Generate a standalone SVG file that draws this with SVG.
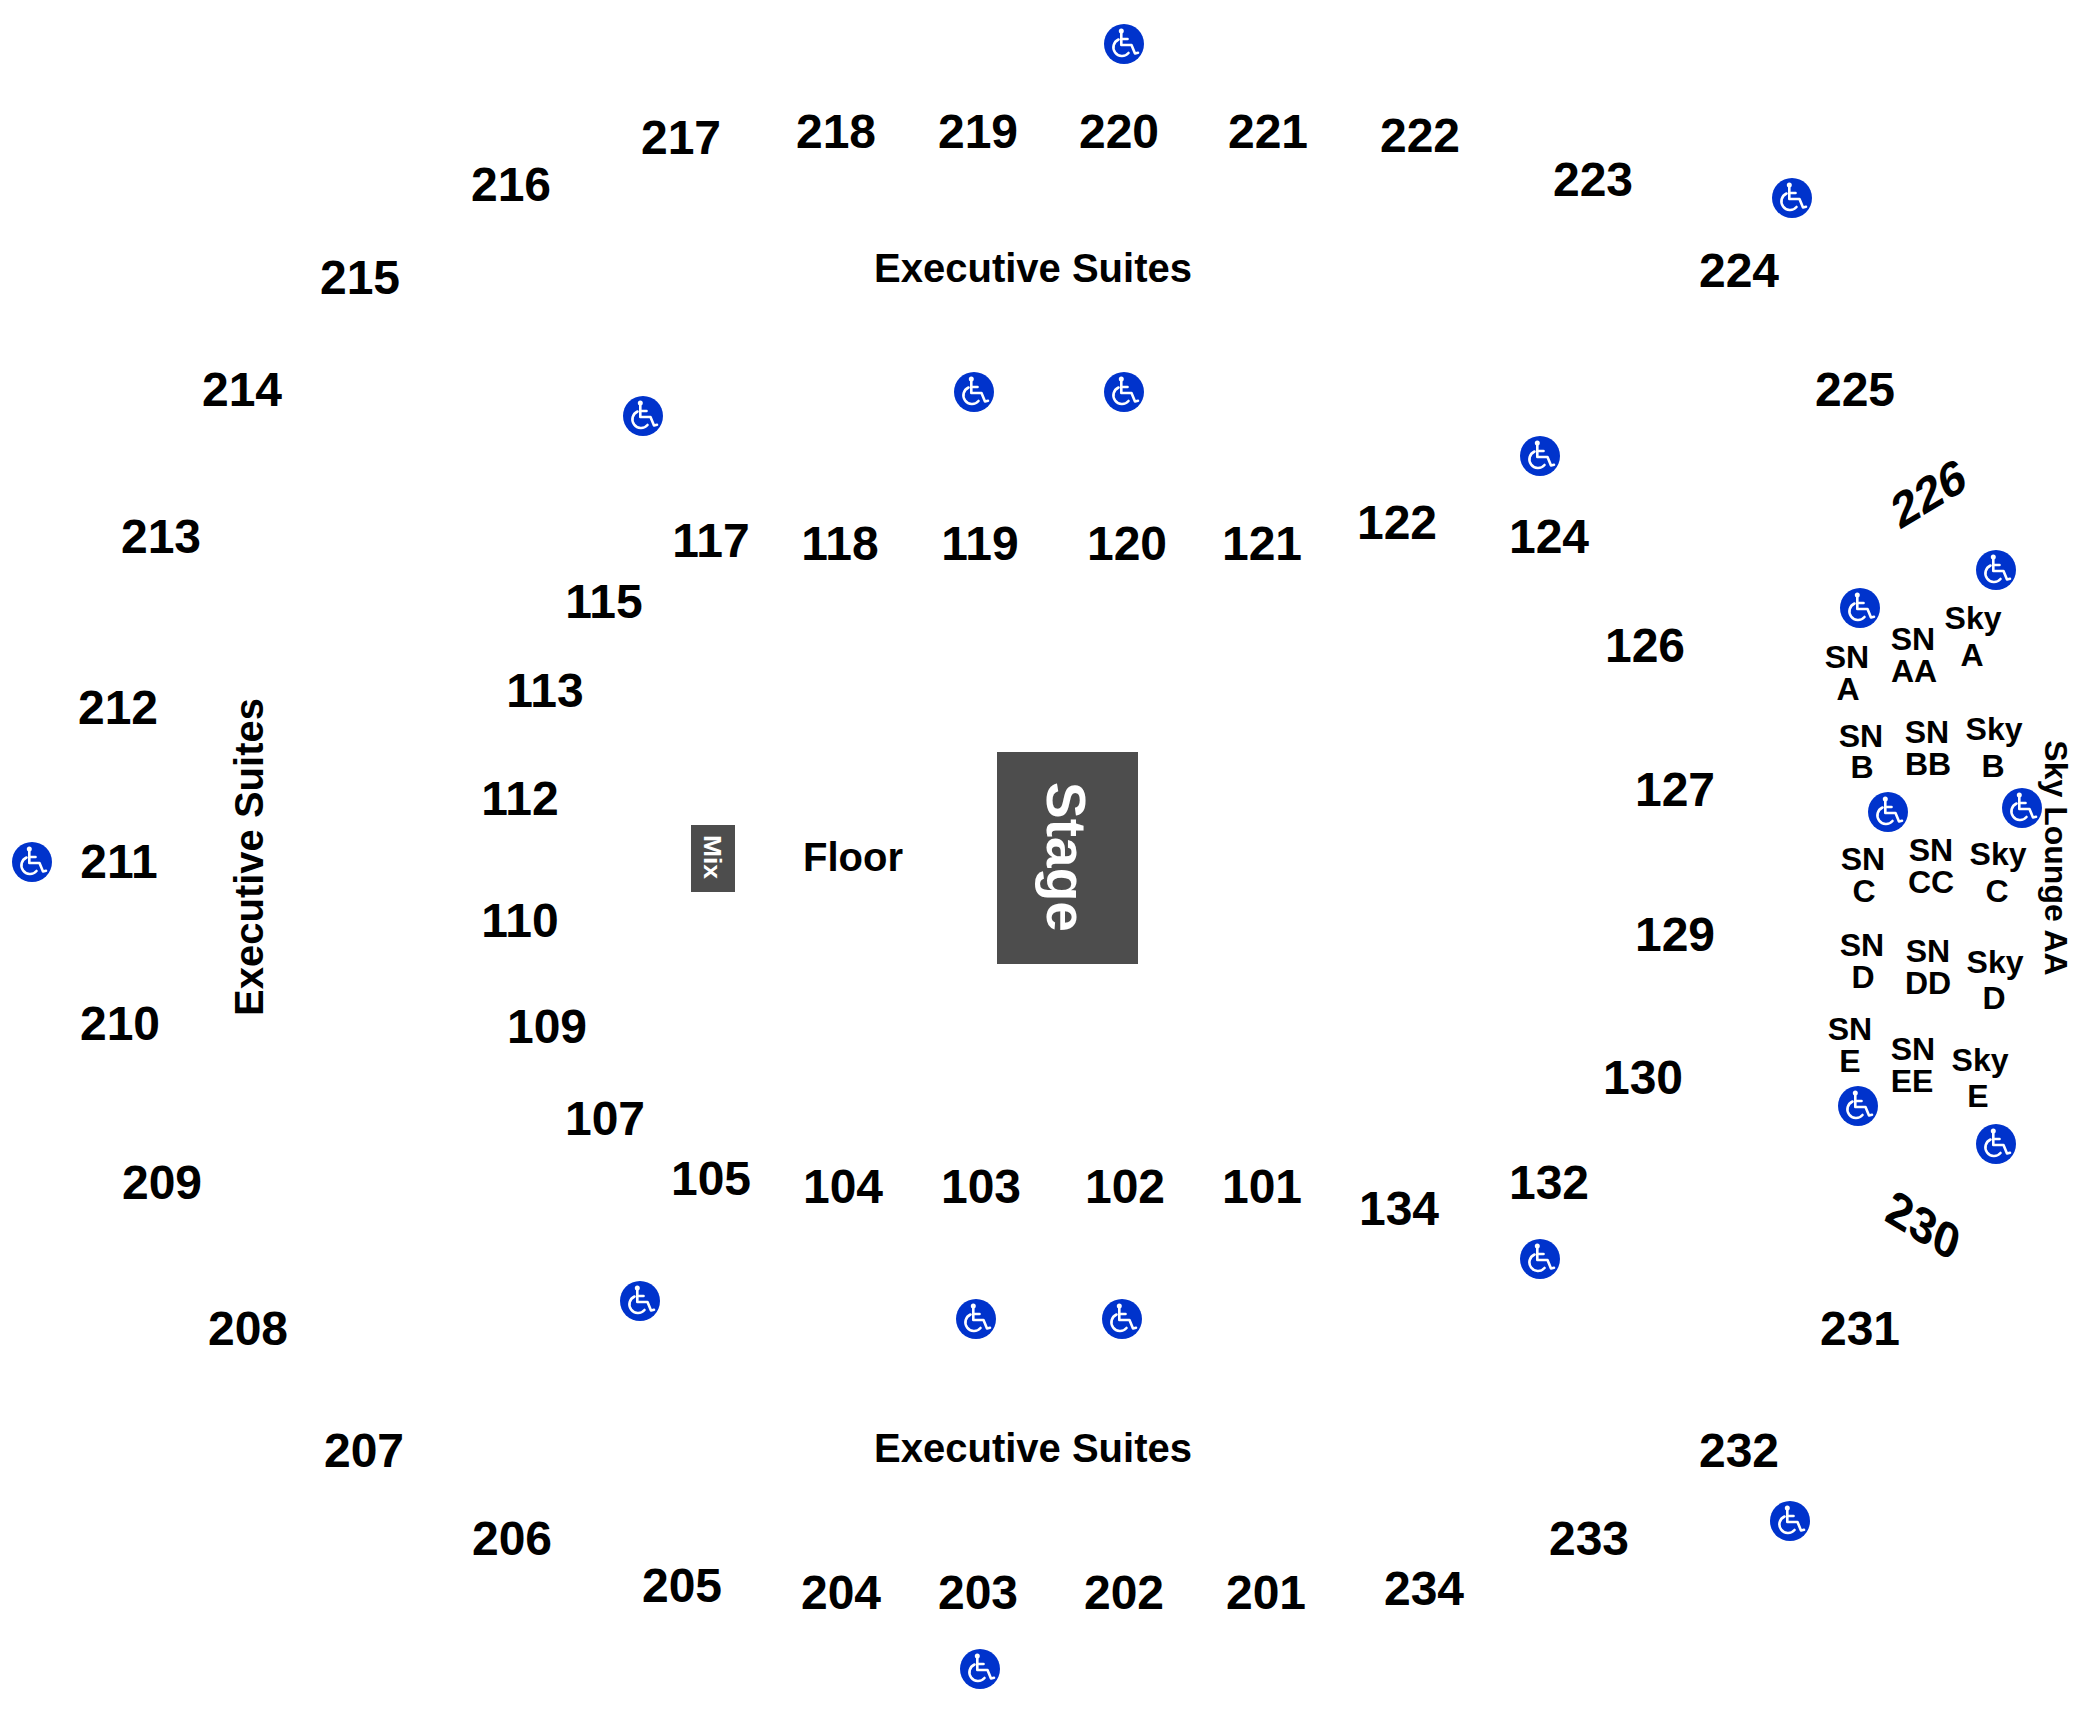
<svg xmlns="http://www.w3.org/2000/svg" width="2100" height="1724" viewBox="0 0 2100 1724">
<style>
text{font-family:"Liberation Sans",Arial,sans-serif;font-weight:700;fill:#000;text-anchor:middle}
.n{font-size:48px}
.l{font-size:40px}
.s{font-size:32px}
text.w{fill:#fff}
.ic{fill:none;stroke:#fff;stroke-width:2.6;stroke-linecap:round;stroke-linejoin:round}
</style>
<defs>
<g id="wc">
<circle r="20" fill="#0033cc"/>
<circle cx="-2.7" cy="-13" r="2.5" fill="#fff"/>
<path class="ic" d="M-2.7-11V1H7.5L11 9.500 14 8.800"/>
<path class="ic" d="M-2.700-5H3.500"/>
<path class="ic" d="M-5.500-4.500A8.600 8.600 0 1 0 4.500 9"/>
</g>
</defs>
<rect width="2100" height="1724" fill="#fff"/>
<g id="stage"><rect x="997" y="752" width="141" height="212" fill="#4d4d4d"/><text class="w" style="font-size:55px" transform="translate(1047 857) rotate(90)">Stage</text></g>
<g id="mix"><rect x="691" y="825" width="44" height="67" fill="#4d4d4d"/><text class="w" style="font-size:25px" transform="translate(704 857) rotate(90) scale(1.06 .92)">Mix</text></g>
<g id="floor"><text class="l" x="853" y="871">Floor</text></g>
<g id="suites">
<text class="l" x="1033" y="282">Executive Suites</text>
<text class="l" x="1033" y="1462">Executive Suites</text>
<text class="l" transform="translate(263 857) rotate(-90)">Executive Suites</text>
<text class="s" transform="translate(2045 858) rotate(90)">Sky Lounge AA</text>
</g>
<g id="upper">
<text class="n" x="681" y="154">217</text><text class="n" x="511" y="201">216</text><text class="n" x="360" y="294">215</text><text class="n" x="242" y="406">214</text><text class="n" x="161" y="553">213</text><text class="n" x="118" y="724">212</text><text class="n" x="119" y="878">211</text><text class="n" x="120" y="1040">210</text><text class="n" x="162" y="1199">209</text><text class="n" x="248" y="1345">208</text><text class="n" x="364" y="1467">207</text><text class="n" x="512" y="1555">206</text><text class="n" x="682" y="1602">205</text><text class="n" x="841" y="1609">204</text><text class="n" x="978" y="1609">203</text><text class="n" x="1124" y="1609">202</text><text class="n" x="1266" y="1609">201</text><text class="n" x="1424" y="1605">234</text><text class="n" x="1589" y="1555">233</text><text class="n" x="1739" y="1467">232</text><text class="n" x="1860" y="1345">231</text><text class="n" x="1855" y="406">225</text><text class="n" x="1739" y="287">224</text><text class="n" x="1593" y="196">223</text><text class="n" x="1420" y="152">222</text><text class="n" x="1268" y="148">221</text><text class="n" x="1119" y="148">220</text><text class="n" x="978" y="148">219</text><text class="n" x="836" y="148">218</text>
<text class="n" transform="matrix(.87 -.53 .32 .95 1934 509)">226</text>
<text class="n" transform="matrix(.87 .53 -.32 .95 1918 1241)">230</text>
</g>
<g id="lower">
<text class="n" x="711" y="557">117</text><text class="n" x="840" y="560">118</text><text class="n" x="980" y="560">119</text><text class="n" x="1127" y="560">120</text><text class="n" x="1262" y="560">121</text><text class="n" x="1397" y="539">122</text><text class="n" x="1549" y="553">124</text><text class="n" x="1645" y="662">126</text><text class="n" x="1675" y="806">127</text><text class="n" x="1675" y="951">129</text><text class="n" x="1643" y="1094">130</text><text class="n" x="1549" y="1199">132</text><text class="n" x="1399" y="1225">134</text><text class="n" x="1262" y="1203">101</text><text class="n" x="1125" y="1203">102</text><text class="n" x="981" y="1203">103</text><text class="n" x="843" y="1203">104</text><text class="n" x="711" y="1195">105</text><text class="n" x="605" y="1135">107</text><text class="n" x="547" y="1043">109</text><text class="n" x="520" y="937">110</text><text class="n" x="520" y="815">112</text><text class="n" x="545" y="707">113</text><text class="n" x="604" y="618">115</text>
</g>
<g id="boxes">
<text class="s" x="1847" y="668">SN</text><text class="s" x="1848" y="700">A</text>
<text class="s" x="1913" y="650">SN</text><text class="s" x="1914" y="682">AA</text>
<text class="s" x="1973" y="629">Sky</text><text class="s" x="1972" y="666">A</text>
<text class="s" x="1861" y="747">SN</text><text class="s" x="1862" y="778">B</text>
<text class="s" x="1927" y="743">SN</text><text class="s" x="1928" y="775">BB</text>
<text class="s" x="1994" y="740">Sky</text><text class="s" x="1993" y="777">B</text>
<text class="s" x="1863" y="870">SN</text><text class="s" x="1864" y="902">C</text>
<text class="s" x="1931" y="861">SN</text><text class="s" x="1931" y="893">CC</text>
<text class="s" x="1998" y="865">Sky</text><text class="s" x="1997" y="902">C</text>
<text class="s" x="1862" y="956">SN</text><text class="s" x="1863" y="988">D</text>
<text class="s" x="1928" y="962">SN</text><text class="s" x="1928" y="994">DD</text>
<text class="s" x="1995" y="973">Sky</text><text class="s" x="1994" y="1009">D</text>
<text class="s" x="1850" y="1040">SN</text><text class="s" x="1850" y="1072">E</text>
<text class="s" x="1913" y="1060">SN</text><text class="s" x="1912" y="1092">EE</text>
<text class="s" x="1980" y="1071">Sky</text><text class="s" x="1978" y="1107">E</text>
</g>
<g id="accessible">
<use href="#wc" x="1124" y="44"/><use href="#wc" x="1792" y="198"/><use href="#wc" x="974" y="392"/><use href="#wc" x="1124" y="392"/><use href="#wc" x="643" y="416"/><use href="#wc" x="1540" y="456"/><use href="#wc" x="32" y="862"/><use href="#wc" x="640" y="1301"/><use href="#wc" x="976" y="1319"/><use href="#wc" x="1122" y="1319"/><use href="#wc" x="1540" y="1259"/><use href="#wc" x="1790" y="1521"/><use href="#wc" x="980" y="1669"/><use href="#wc" x="1996" y="570"/><use href="#wc" x="1860" y="608"/><use href="#wc" x="1888" y="812"/><use href="#wc" x="2022" y="808"/><use href="#wc" x="1858" y="1106"/><use href="#wc" x="1996" y="1144"/>
</g>
</svg>
